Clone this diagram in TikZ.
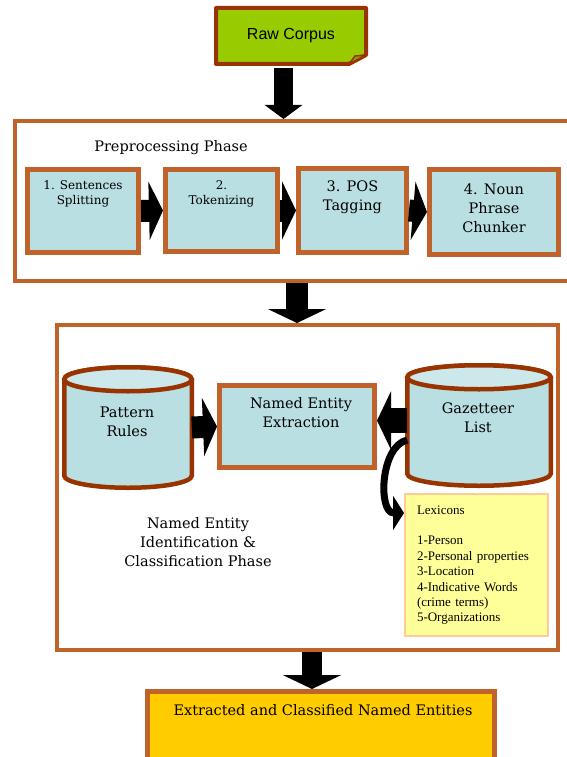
\documentclass[tikz,border=0pt]{standalone}
\usepackage{fontspec}
\setmainfont{DejaVu Serif}
\newfontfamily\rawfont{Liberation Sans}
\newfontfamily\lexfont{Liberation Serif}
\usetikzlibrary{arrows.meta,positioning,backgrounds}

\definecolor{framebrown}{RGB}{192,99,43}
\definecolor{darkbrown}{RGB}{153,51,0}
\definecolor{boxblue}{RGB}{185,223,227}
\definecolor{topblue}{RGB}{204,232,235}
\definecolor{rawgreen}{RGB}{153,204,0}
\definecolor{foldgreen}{RGB}{125,170,0}
\definecolor{lexyellow}{RGB}{255,255,153}
\definecolor{lexborder}{RGB}{255,204,153}
\definecolor{outgold}{RGB}{255,204,0}

\tikzset{
  phase/.style={draw=framebrown, line width=4pt, inner sep=0pt},
  stepbox/.style={draw=framebrown, fill=boxblue, line width=5pt, inner sep=0pt},
  store/.style={inner sep=0pt, outer sep=0pt},
  storeline/.style={draw=darkbrown, line width=4.5pt},
  lbl/.style={align=center, inner sep=0pt, font=\fontsize{14.5}{19}\selectfont},
  smalllbl/.style={align=center, inner sep=0pt, font=\fontsize{12}{15}\selectfont},
  blockarrow/.style={line width=22pt, -{Triangle[length=14pt,width=58pt]}},
}

% cylinder drawn round a named node: #1 node, #2 half width
\newcommand{\dbstore}[2]{%
  \draw[storeline, fill=boxblue] ([yshift=-12pt]#1.north west) -- ([yshift=12pt]#1.south west)
    arc[start angle=180, end angle=360, x radius=#2, y radius=12pt]
    -- ([yshift=-12pt]#1.north east)
    arc[start angle=0, end angle=180, x radius=#2, y radius=12pt] -- cycle;
  \draw[storeline, fill=topblue] ([yshift=-12pt]#1.north) ellipse [x radius=#2, y radius=12pt];}

\begin{document}
\begin{tikzpicture}[x=1pt,y=-1pt]
\useasboundingbox (0,0) rectangle (566,757);

% input
\node[inner sep=0pt, outer sep=0pt, minimum width=150pt, minimum height=56pt,
  font=\rawfont\fontsize{16}{19}\selectfont] (raw) at (291,36) {Raw Corpus};
\begin{scope}[on background layer]
\draw[draw=darkbrown, fill=rawgreen, line width=4pt, line join=round]
  (raw.north west) -- (raw.north east) -- ([yshift=9pt]raw.south east)
  -- ([xshift=-17pt]raw.south east) -- (raw.south west) -- cycle;
\draw[draw=darkbrown, fill=foldgreen, line width=1.5pt, line join=round]
  ([xshift=-17pt]raw.south east) -- ([xshift=-11pt,yshift=8pt]raw.south east)
  -- ([yshift=9pt]raw.south east) -- cycle;
\end{scope}

% preprocessing phase
\node[phase, minimum width=585pt, minimum height=160pt] (pre) at (307.5,201) {};
\node[lbl] (prelbl) at (171,148) {Preprocessing Phase};

\node[stepbox, minimum width=111pt, minimum height=83pt] (b1) at (83,211) {};
\node[smalllbl] (b1lbl) at (83,193.5) {1. Sentences\\Splitting};
\node[stepbox, minimum width=112pt, minimum height=82pt] (b2) at (221.5,210.5) {};
\node[smalllbl] (b2lbl) at (221.5,193.5) {2.\\Tokenizing};
\node[stepbox, minimum width=108pt, minimum height=84pt] (b3) at (352.5,210.5) {};
\node[lbl] (b3lbl) at (352.5,197.5) {3. POS\\Tagging};
\node[stepbox, minimum width=129pt, minimum height=85pt] (b4) at (494,212) {};
\node[lbl] (b4lbl) at (494,208.5) {4. Noun\\Phrase\\Chunker};

\draw[blockarrow] (b1.east) -- (b2.west);
\draw[blockarrow] (b2.east) -- (b3.west);
\draw[blockarrow] (b3.east) -- (b4.west);

% identification and classification phase
\node[phase, minimum width=501pt, minimum height=325pt] (ner) at (307.5,487.5) {};

\node[store, minimum width=127.5pt, minimum height=120.5pt] (pat) at (128,427.5) {};
\dbstore{pat}{63.75pt}
\node[lbl] (patlbl) at (127,421.5) {Pattern\\Rules};
\node[stepbox, minimum width=155pt, minimum height=82pt] (nee) at (297,426.5) {};
\node[lbl] (neelbl) at (301,413) {Named Entity\\Extraction};
\node[store, minimum width=143.5pt, minimum height=120.5pt] (gaz) at (479,425.5) {};
\dbstore{gaz}{71.75pt}
\node[lbl] (gazlbl) at (478,417.5) {Gazetteer\\List};

\node[draw=lexborder, fill=lexyellow, line width=2pt, text width=119pt, inner xsep=12pt,
  inner ysep=0pt, minimum height=142pt, align=left,
  font=\lexfont\fontsize{13}{15.4}\selectfont] (lex) at (476.5,565)
  {Lexicons\\[15.4pt]1-Person\\2-Personal properties\\3-Location\\4-Indicative Words\\(crime terms)\\5-Organizations};

\node[lbl] (nerlbl) at (198,542) {Named Entity\\Identification \&\\Classification Phase};

\draw[blockarrow] (pat.east) -- (nee.west);
\draw[blockarrow, line width=25pt] ([yshift=5pt]gaz.west) -- ([yshift=5pt]gaz.west -| nee.east);
\draw[line width=7pt, -{Triangle[length=11pt,width=34pt]}]
  ([yshift=-14.5pt]gaz.west) .. controls (380,446) and (378,513) .. ([yshift=-20pt]lex.north west);

% output
\node[stepbox, fill=outgold, minimum width=347pt, minimum height=108.5pt] (fin) at (321,745.75) {};
\node[lbl] (finlbl) at (323,710) {Extracted and Classified Named Entities};

% flow between phases
\draw[line width=19pt, -{Triangle[length=14pt,width=37pt]}]
  ([xshift=-7.5pt,yshift=-4pt]raw.south) -- ([xshift=-7.5pt]raw.south |- pre.north);
\draw[blockarrow] ([xshift=-10.5pt]pre.south) -- ([xshift=-10.5pt]pre.south |- ner.north);
\draw[blockarrow, line width=20pt] ([xshift=4.5pt]ner.south) -- ([xshift=4.5pt]ner.south |- fin.north);
\end{tikzpicture}
\end{document}
